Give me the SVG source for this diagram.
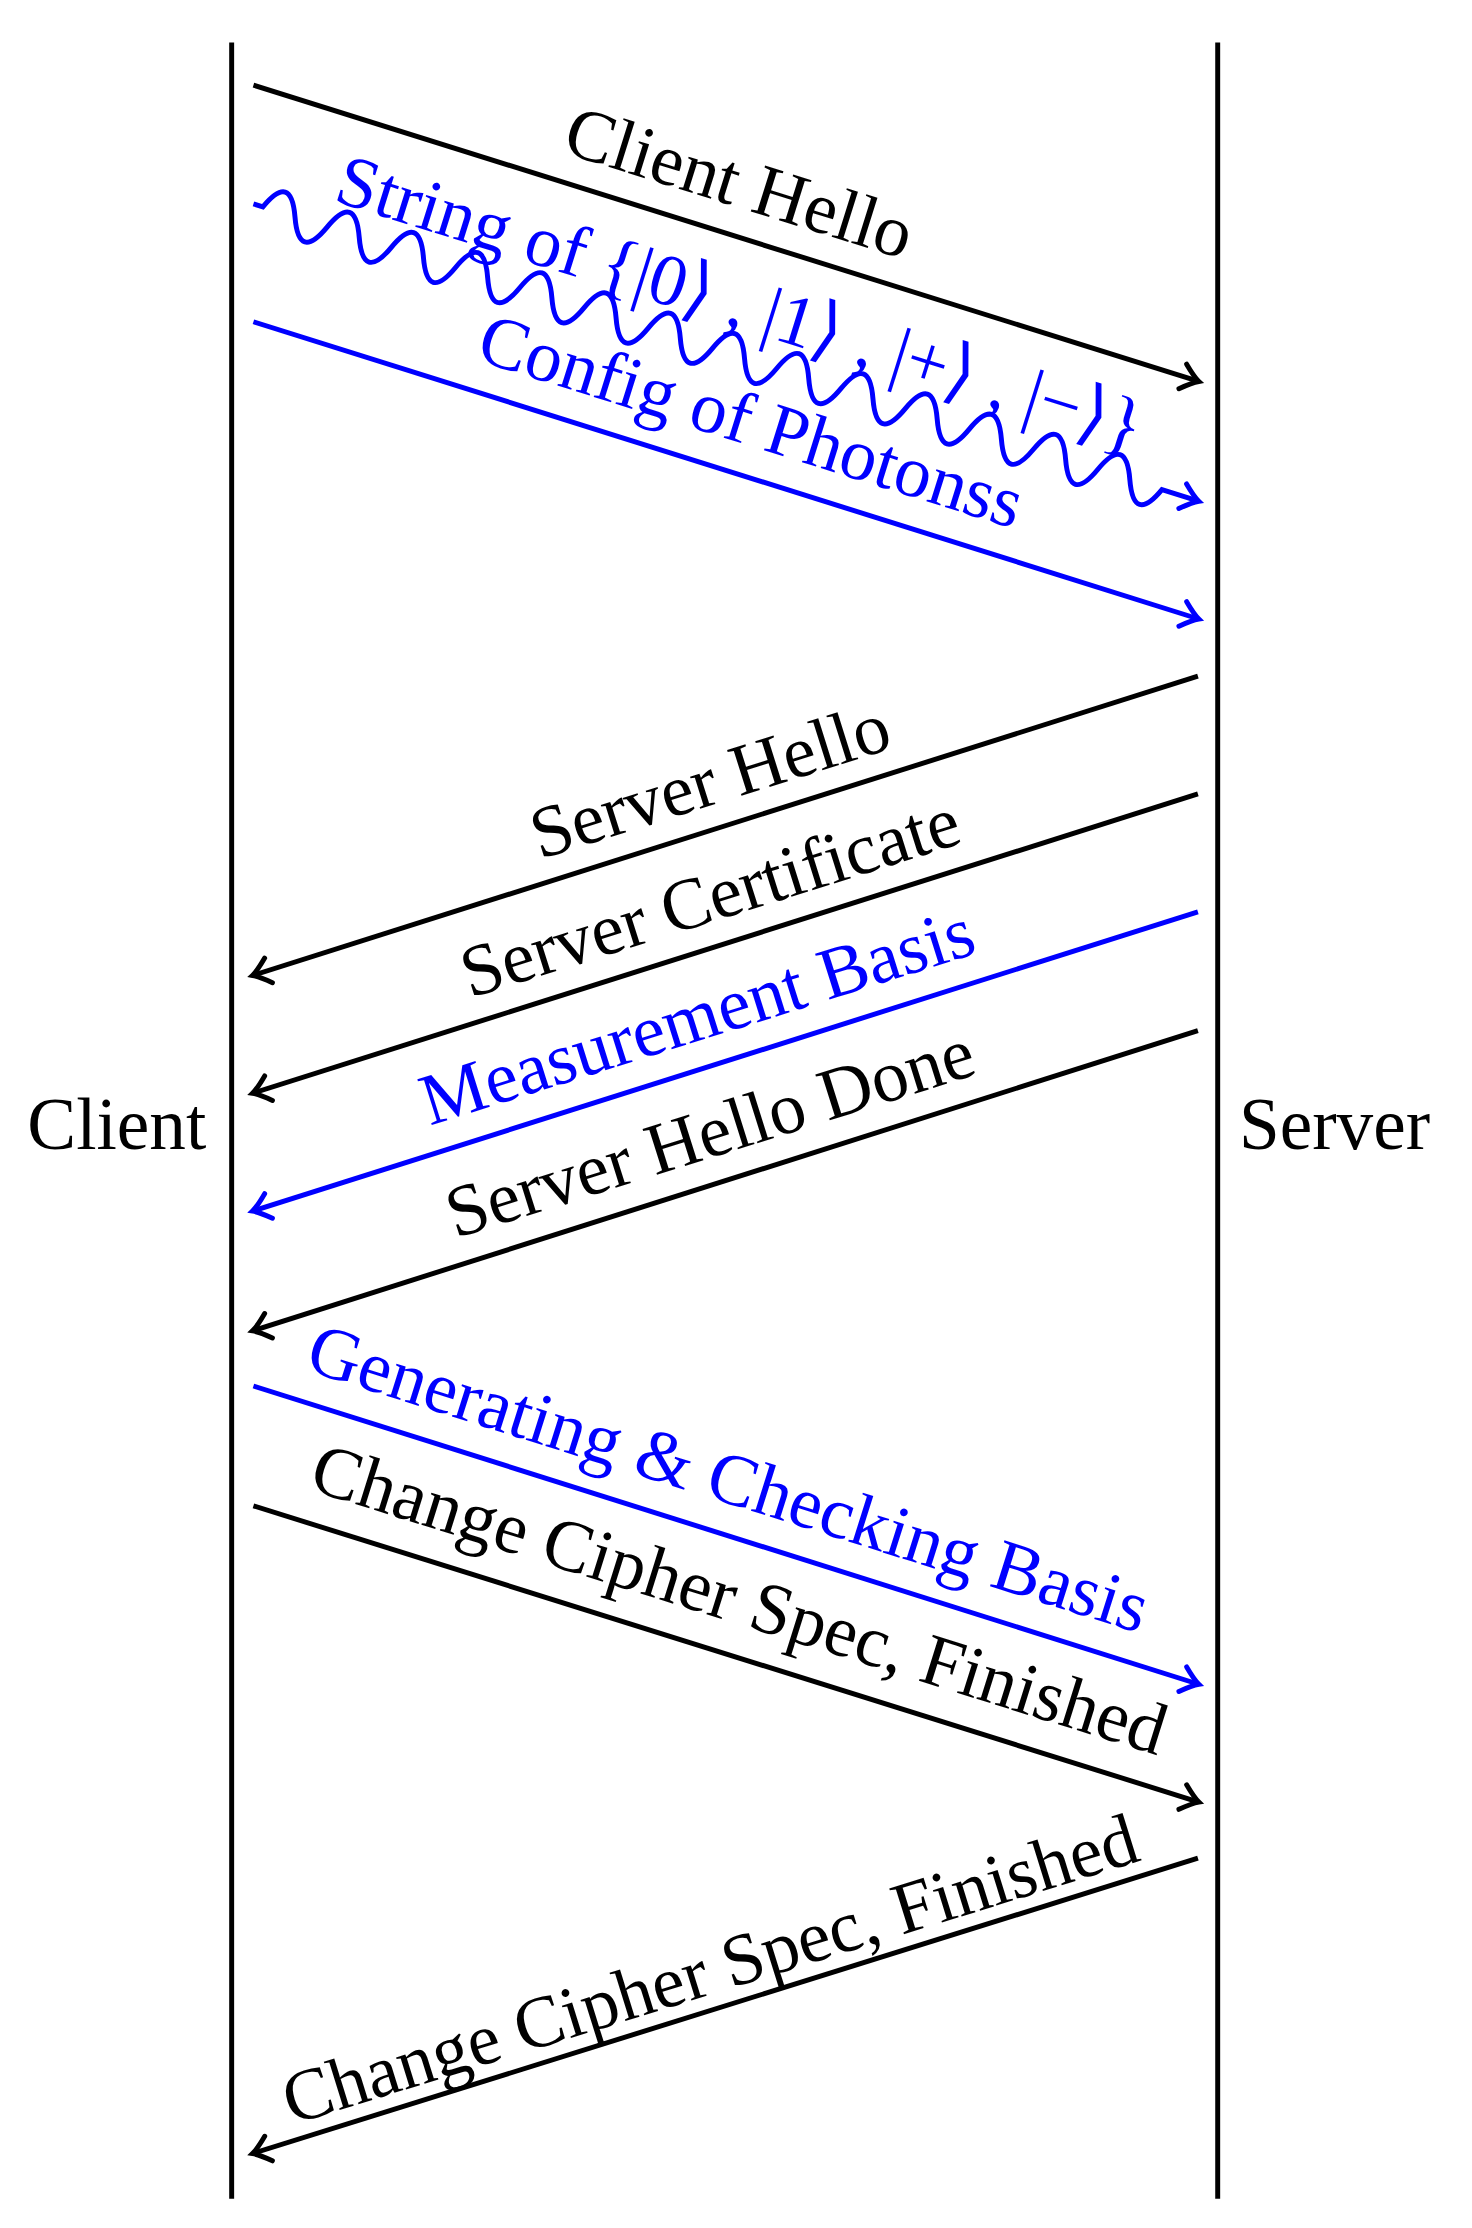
<svg xmlns="http://www.w3.org/2000/svg" width="1472" height="2228" viewBox="0 0 1472 2228">
<style>
.t{font-family:"Liberation Serif","DejaVu Serif",serif;font-size:74px;text-anchor:middle;dominant-baseline:central}
.k{fill:#000}.b{fill:#0000ff}
.lk{stroke:#000;stroke-width:5;fill:none}
.lb{stroke:#0000ff;stroke-width:5;fill:none}
</style>
<defs>
<marker id="ak" markerUnits="userSpaceOnUse" orient="auto" markerWidth="40" markerHeight="40" viewBox="-20 -20 40 40" refX="0" refY="0"><path d="M-16,-13 Q-5,-3 1,0 Q-5,3 -16,13" stroke="#000" stroke-width="5" fill="none" stroke-linecap="round"/></marker>
<marker id="ab" markerUnits="userSpaceOnUse" orient="auto" markerWidth="40" markerHeight="40" viewBox="-20 -20 40 40" refX="0" refY="0"><path d="M-16,-13 Q-5,-3 1,0 Q-5,3 -16,13" stroke="#0000ff" stroke-width="5" fill="none" stroke-linecap="round"/></marker>
</defs>
<g transform="scale(0.99)">
<g id="client"><line x1="234" y1="43" x2="234" y2="2221" class="lk"/><text class="t k" x="118" y="1136">Client</text></g>
<g id="server"><line x1="1230" y1="43" x2="1230" y2="2221" class="lk"/><text class="t k" x="1348" y="1136">Server</text></g>
<g id="connectors">
<line x1="256" y1="86" x2="1210" y2="385" class="lk" marker-end="url(#ak)"/>
<path transform="translate(256,206) rotate(17.46)" class="lb" marker-end="url(#ab)" d="M0,0 l10,0 q17,-42 34,0 t34,0 t34,0 t34,0 t34,0 t34,0 t34,0 t34,0 t34,0 t34,0 t34,0 t34,0 t34,0 t34,0 t34,0 t34,0 t34,0 t34,0 t34,0 t34,0 t34,0 t34,0 t34,0 t34,0 t34,0 t34,0 t34,0 t34,0 l38,0"/>
<line x1="256" y1="325" x2="1210" y2="625" class="lb" marker-end="url(#ab)"/>
<line x1="1210" y1="683" x2="256" y2="985" class="lk" marker-end="url(#ak)"/>
<line x1="1210" y1="802" x2="256" y2="1104" class="lk" marker-end="url(#ak)"/>
<line x1="1210" y1="921" x2="256" y2="1223" class="lb" marker-end="url(#ab)"/>
<line x1="1210" y1="1041" x2="256" y2="1344" class="lk" marker-end="url(#ak)"/>
<line x1="256" y1="1400" x2="1210" y2="1701" class="lb" marker-end="url(#ab)"/>
<line x1="256" y1="1521" x2="1210" y2="1820" class="lk" marker-end="url(#ak)"/>
<line x1="1210" y1="1877" x2="256" y2="2175" class="lk" marker-end="url(#ak)"/>
</g>
<g id="labels">
<text class="t k" transform="translate(747,184) rotate(17.4)">Client Hello</text>
<text class="t b" transform="translate(748,306) rotate(17.4)">String of {|0⟩ , |1⟩ , |+⟩ , |−⟩}</text>
<text class="t b" transform="translate(759,425) rotate(17.4)">Config of Photonss</text>
<text class="t k" transform="translate(717,788) rotate(-17.5)">Server Hello</text>
<text class="t k" transform="translate(717,906) rotate(-17.5)">Server Certificate</text>
<text class="t b" transform="translate(704,1026) rotate(-17.5)">Measurement Basis</text>
<text class="t k" transform="translate(717,1144) rotate(-17.5)">Server Hello Done</text>
<text class="t b" transform="translate(736,1493) rotate(17.5)">Generating &amp; Checking Basis</text>
<text class="t k" transform="translate(747,1615) rotate(17.4)">Change Cipher Spec, Finished</text>
<text class="t k" transform="translate(717,1989) rotate(-17.3)">Change Cipher Spec, Finished</text>
</g>
</g>
</svg>
